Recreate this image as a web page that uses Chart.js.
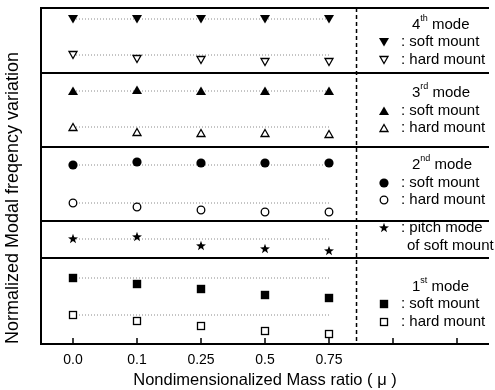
<!DOCTYPE html>
<html>
<head>
<meta charset="utf-8">
<script src="https://cdn.jsdelivr.net/npm/chart.js@4/dist/chart.umd.min.js"></script>
<style>
  html, body { margin: 0; padding: 0; background: #fff; }
  #wrap { width: 495px; height: 390px; }
</style>
</head>
<body>
<div id="wrap"><canvas id="chart"></canvas></div>
<script>
// x categories (mass ratio) and extra empty ticks to the right
const xLabels = ['0.0', '0.1', '0.25', '0.5', '0.75'];
const xTickCount = 7;
const dashX = 4.43;

// panel edges on the (unitless) normalized frequency axis, bottom to top
const panelEdges = [0, 8.6, 12.3, 19.7, 27.1, 33.6];

// series values
const soft4 = [32.5, 32.5, 32.5, 32.5, 32.5];
const hard4 = [28.9, 28.5, 28.4, 28.2, 28.2];
const soft3 = [25.3, 25.4, 25.3, 25.3, 25.3];
const hard3 = [21.7, 21.2, 21.1, 21.1, 21.0];
const soft2 = [17.9, 18.2, 18.1, 18.1, 18.1];
const hard2 = [14.1, 13.7, 13.4, 13.2, 13.2];
const pitch = [10.5, 10.7, 9.8, 9.5, 9.3];
const soft1 = [6.6, 6.0, 5.5, 4.9, 4.6];
const hard1 = [2.9, 2.3, 1.8, 1.3, 1.0];

const FONT = '"Liberation Sans", Arial, Helvetica, sans-serif';

// marker images
function marker(draw) {
    const c = document.createElement('canvas');
    c.width = 14; c.height = 14;
    const g = c.getContext('2d');
    g.translate(7, 7);
    g.fillStyle = '#000';
    g.strokeStyle = '#000';
    g.lineWidth = 1.3;
    draw(g);
    return c;
}
function poly(g, pts, open) {
    g.beginPath();
    pts.forEach((p, i) => i ? g.lineTo(p[0], p[1]) : g.moveTo(p[0], p[1]));
    g.closePath();
    if (open) { g.fillStyle = '#fff'; g.fill(); g.stroke(); } else g.fill();
}
const M = {
    downFill: marker(g => poly(g, [[-5, -4], [5, -4], [0, 4.5]])),
    downOpen: marker(g => poly(g, [[-4, -3.5], [4, -3.5], [0, 3.5]], true)),
    upFill: marker(g => poly(g, [[-5, 4], [5, 4], [0, -4.5]])),
    upOpen: marker(g => poly(g, [[-4, 3.5], [4, 3.5], [0, -3.5]], true)),
    circFill: marker(g => { g.beginPath(); g.arc(0, 0, 4.6, 0, Math.PI * 2); g.fill(); }),
    circOpen: marker(g => { g.beginPath(); g.arc(0, 0, 3.8, 0, Math.PI * 2); g.fillStyle = '#fff'; g.fill(); g.stroke(); }),
    sqFill: marker(g => g.fillRect(-4.2, -4.2, 8.4, 8.4)),
    sqOpen: marker(g => { g.fillStyle = '#fff'; g.fillRect(-3.5, -3.5, 7, 7); g.strokeRect(-3.5, -3.5, 7, 7); }),
    star: marker(g => {
        const pts = [];
        for (let i = 0; i < 10; i++) {
            const r = i % 2 ? 2.1 : 5.2;
            const a = -Math.PI / 2 + i * Math.PI / 5;
            pts.push([r * Math.cos(a), r * Math.sin(a)]);
        }
        poly(g, pts);
    })
};

const series = [
    {values: soft4, style: M.downFill},
    {values: hard4, style: M.downOpen},
    {values: soft3, style: M.upFill},
    {values: hard3, style: M.upOpen},
    {values: soft2, style: M.circFill},
    {values: hard2, style: M.circOpen},
    {values: pitch, style: M.star},
    {values: soft1, style: M.sqFill},
    {values: hard1, style: M.sqOpen}
];

const datasets = [];
// dotted reference line at the value for mu = 0
series.forEach(s => {
    datasets.push({
        type: 'line',
        data: [{x: 0, y: s.values[0]}, {x: xLabels.length - 1, y: s.values[0]}],
        borderColor: '#8a8a8a',
        borderWidth: 1,
        borderDash: [1, 2],
        pointRadius: 0,
        order: 2
    });
});
series.forEach(s => {
    datasets.push({
        type: 'scatter',
        data: s.values.map((v, i) => ({x: i, y: v})),
        pointStyle: s.style,
        pointRadius: 5,
        order: 1
    });
});

// legend entries: header, then marker + text rows (pixel offsets inside right area)
const legendBlocks = [
    {head: ['4', 'th'], y: 25, rows: [[M.downFill, ': soft mount', 42], [M.downOpen, ': hard mount', 60]]},
    {head: ['3', 'rd'], y: 93, rows: [[M.upFill, ': soft mount', 111], [M.upOpen, ': hard mount', 128]]},
    {head: ['2', 'nd'], y: 165, rows: [[M.circFill, ': soft mount', 183], [M.circOpen, ': hard mount', 200]]},
    {head: null, y: 0, rows: [[M.star, ': pitch mode', 228], [null, 'of soft mount', 246]]},
    {head: ['1', 'st'], y: 287, rows: [[M.sqFill, ': soft mount', 304], [M.sqOpen, ': hard mount', 322]]}
];

const framePlugin = {
    id: 'framePlugin',
    beforeDatasetsDraw(chart) {
        const {ctx, chartArea: a, scales: {x, y}} = chart;
        ctx.save();
        ctx.strokeStyle = '#000';
        // dashed separator
        ctx.lineWidth = 1.5;
        ctx.setLineDash([4, 3]);
        const dx = x.getPixelForValue(dashX);
        ctx.beginPath();
        ctx.moveTo(dx, a.top);
        ctx.lineTo(dx, a.bottom);
        ctx.stroke();
        ctx.setLineDash([]);
        // panel dividers and frame
        ctx.lineWidth = 2;
        ctx.beginPath();
        panelEdges.forEach(v => {
            const py = Math.round(y.getPixelForValue(v));
            ctx.moveTo(a.left, py);
            ctx.lineTo(a.right, py);
        });
        ctx.moveTo(a.left, a.top - 1);
        ctx.lineTo(a.left, a.bottom + 1);
        ctx.stroke();
        // inward x ticks
        ctx.lineWidth = 1.5;
        ctx.beginPath();
        for (let i = 0; i < xTickCount; i++) {
            const px = x.getPixelForValue(i);
            ctx.moveTo(px, a.bottom);
            ctx.lineTo(px, a.bottom - 6);
        }
        ctx.stroke();
        ctx.restore();
    },
    afterDraw(chart) {
        const {ctx} = chart;
        ctx.save();
        ctx.fillStyle = '#000';
        ctx.textBaseline = 'middle';
        legendBlocks.forEach(b => {
            if (b.head) {
                let hx = 412;
                ctx.font = '15px ' + FONT;
                ctx.fillText(b.head[0], hx, b.y);
                hx += ctx.measureText(b.head[0]).width;
                ctx.font = '9px ' + FONT;
                ctx.fillText(b.head[1], hx, b.y - 6);
                hx += ctx.measureText(b.head[1]).width;
                ctx.font = '15px ' + FONT;
                ctx.fillText(' mode', hx, b.y);
            }
            b.rows.forEach(r => {
                ctx.font = '15px ' + FONT;
                if (r[0]) {
                    ctx.drawImage(r[0], 384 - 7, r[2] - 7);
                    ctx.fillText(r[1], 401, r[2]);
                } else {
                    ctx.fillText(r[1], 407, r[2]);
                }
            });
        });
        ctx.restore();
    }
};

new Chart(document.getElementById('chart'), {
    data: {datasets},
    options: {
        responsive: true,
        maintainAspectRatio: false,
        animation: false,
        events: [],
        layout: {padding: {top: 8, right: 0, left: 0, bottom: 0}},
        plugins: {legend: {display: false}, tooltip: {enabled: false}},
        scales: {
            x: {
                type: 'linear',
                min: -0.5,
                max: xTickCount - 0.5,
                afterBuildTicks(scale) {
                    scale.ticks = Array.from({length: xTickCount}, (_, i) => ({value: i}));
                },
                afterFit(scale) { scale.height = 46; },
                grid: {display: false, drawTicks: false},
                border: {display: false},
                ticks: {
                    padding: 8,
                    color: '#000',
                    font: {size: 14, family: FONT},
                    callback: v => xLabels[v] || ''
                },
                title: {
                    display: true,
                    text: 'Nondimensionalized Mass ratio ( μ )',
                    color: '#000',
                    font: {size: 16.5, family: FONT},
                    padding: {top: 0, bottom: 0}
                }
            },
            y: {
                type: 'linear',
                min: panelEdges[0],
                max: panelEdges[panelEdges.length - 1],
                afterFit(scale) { scale.width = 41; },
                grid: {display: false, drawTicks: false},
                border: {display: false},
                ticks: {display: false},
                title: {
                    display: true,
                    align: 'start',
                    text: 'Normalized Modal freqency variation',
                    color: '#000',
                    font: {size: 18, family: FONT},
                    padding: {top: 2, bottom: 0}
                }
            }
        }
    },
    plugins: [framePlugin]
});
</script>
</body>
</html>
